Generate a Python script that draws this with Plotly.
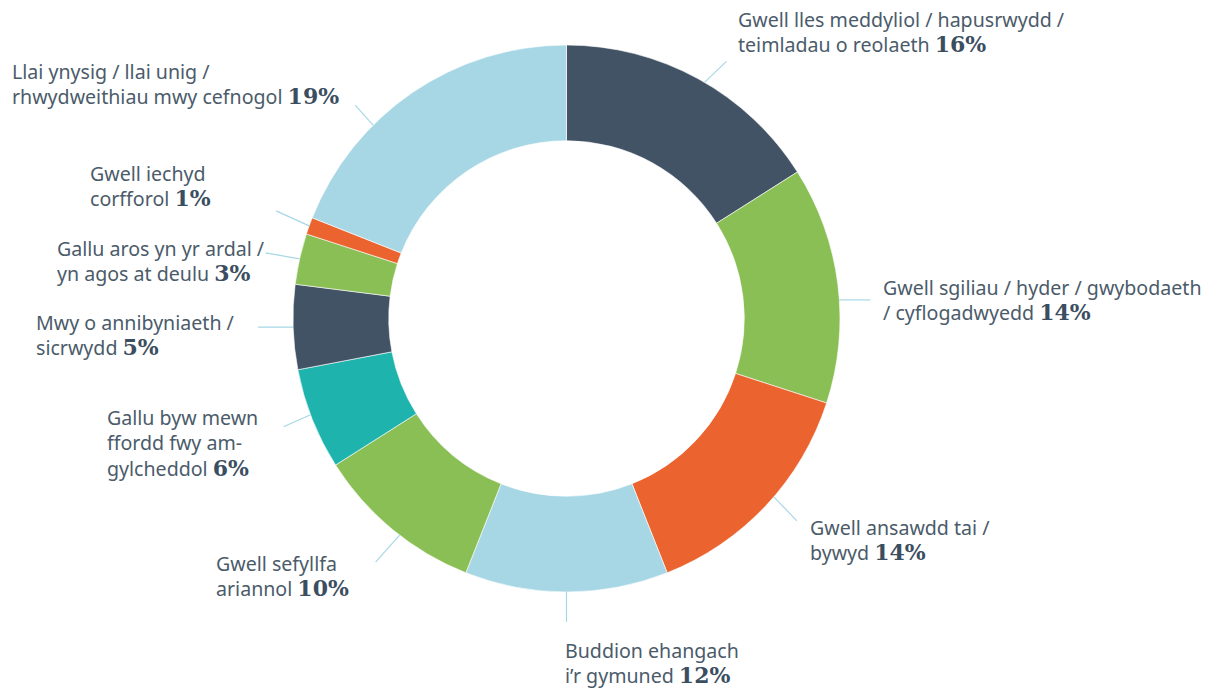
import math
import plotly.graph_objects as go

# ── Data ──────────────────────────────────────────────────────────────────────
labels = [
    "Gwell lles meddyliol / hapusrwydd /<br>teimladau o reolaeth",
    "Gwell sgiliau / hyder / gwybodaeth<br>/ cyflogadwyedd",
    "Gwell ansawdd tai /<br>bywyd",
    "Buddion ehangach<br>i’r gymuned",
    "Gwell sefyllfa<br>ariannol",
    "Gallu byw mewn<br>ffordd fwy am-<br>gylcheddol",
    "Mwy o annibyniaeth /<br>sicrwydd",
    "Gallu aros yn yr ardal /<br>yn agos at deulu",
    "Gwell iechyd<br>corfforol",
    "Llai ynysig / llai unig /<br>rhwydweithiau mwy cefnogol",
]
values = [16, 14, 14, 12, 10, 6, 5, 3, 1, 19]
colors = ["#415364", "#8abf56", "#eb632e", "#a7d7e5", "#8abf56",
          "#1fb3ae", "#415364", "#8abf56", "#eb632e", "#a7d7e5"]

# ── Layout constants (pixels, as seen on the page) ────────────────────────────
W, H = 1213, 688
OFF = 8  # page body margin shifts the figure by this much
cx, cy, R = 566.5, 318.5, 273.5

# label block: left x, centre y
label_pos = [(736, 32), (881, 300), (808, 540), (563, 663), (214, 576),
             (105, 443), (34, 335), (55, 261), (88, 186), (10, 84)]
# leader line: start nudge (deg) from slice middle, outward offset (dx, dy)
leader = [(1.5, 22, -21), (3.3, 31, 0), (-2.5, 23, 24), (0, 0, 30), (-2, -24, 27),
          (1, -27, 12), (0, -35, 0), (0, -34, -6), (0, -33, -15), (-10.8, -18, -20)]

TEXT_COL = "#4b5b6a"
PCT_COL = "#3b4e5f"
LINE_COL = "#a7d7e5"


def px(x):
    return (x - OFF) / W


def py(y):
    return 1 - (y - OFF) / H


fig = go.Figure(
    go.Pie(
        values=values,
        labels=[l.replace("<br>", " ") for l in labels],
        marker=dict(colors=colors, line=dict(color="white", width=0.6)),
        hole=0.65,
        sort=False,
        direction="clockwise",
        rotation=0,
        textinfo="none",
        hoverinfo="label+percent",
        showlegend=False,
        domain=dict(x=[px(cx - R), px(cx + R)], y=[py(cy + R), py(cy - R)]),
    )
)

# ── Leader lines + labels ─────────────────────────────────────────────────────
total = sum(values)
cum = 0
for i, v in enumerate(values):
    theta = math.radians(360 * (cum + v / 2) / total + leader[i][0])
    cum += v
    x0 = cx + R * math.sin(theta)
    y0 = cy - R * math.cos(theta)
    x1, y1 = x0 + leader[i][1], y0 + leader[i][2]
    fig.add_shape(type="line", xref="paper", yref="paper",
                  x0=px(x0), y0=py(y0), x1=px(x1), y1=py(y1),
                  line=dict(color=LINE_COL, width=1.2))

    pct = (f'<span style="font-family:DejaVu Serif;font-size:22px;'
           f'color:{PCT_COL}"><b>{v}%</b></span>')
    lx, ly = label_pos[i]
    fig.add_annotation(
        x=px(lx), y=py(ly), xref="paper", yref="paper",
        xanchor="left", yanchor="middle", align="left",
        text=f"{labels[i]} {pct}", showarrow=False,
        font=dict(family="Noto Sans", size=19.6, color=TEXT_COL),
    )

fig.update_layout(
    width=W, height=H,
    margin=dict(l=0, r=0, t=0, b=0),
    paper_bgcolor="white",
    plot_bgcolor="white",
)

fig.write_html("out.html")
